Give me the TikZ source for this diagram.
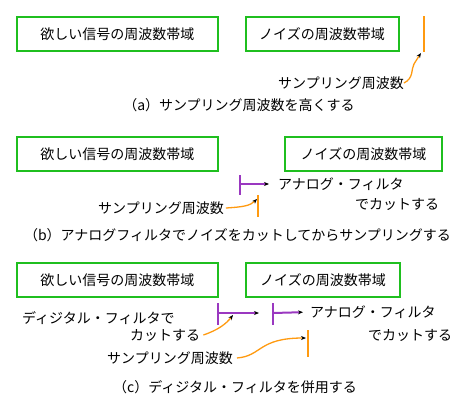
\documentclass[tikz,border=0pt]{standalone}
\usepackage{fontspec}
\setmainfont{Noto Sans CJK JP}
\usetikzlibrary{arrows.meta,positioning}
\definecolor{BandGreen}{HTML}{1FBF1F}
\definecolor{FilterPurple}{HTML}{9A38C0}
\definecolor{SampleOrange}{HTML}{FF9A10}
\tikzset{
  every node/.style={font=\fontsize{14}{16}\selectfont, inner sep=0pt},
  band/.style={draw=BandGreen, line width=2pt, minimum height=34pt},
  marker/.style={draw=SampleOrange, line width=2pt},
  filterbar/.style={draw=FilterPurple, line width=2pt},
  filterarrow/.style={-{Stealth[length=5pt,width=4pt,color=black]}, draw=FilterPurple, line width=2pt},
  pointer/.style={-{Stealth[length=5pt,width=4pt,color=black]}, draw=SampleOrange, line width=1.3pt},
}

\begin{document}
\begin{tikzpicture}[x=1pt,y=-1pt]
  \useasboundingbox (0,0) rectangle (467,407);
  % (a)
  \node[band, minimum width=201pt] (wantA) at (117.5,34) {欲しい信号の周波数帯域};
  \node[band, minimum width=153pt] (noiseA) at (322,34) {ノイズの周波数帯域};
  \coordinate (fsTopA) at (424,16);
  \coordinate (fsBotA) at (424,52);
  \coordinate (fsTipA) at (421,53);
  \draw[marker] (fsTopA) -- (fsBotA);
  \node[anchor=west] (fsA) at (278,83) {サンプリング周波数};
  \draw[pointer] (fsA.east) .. controls (414,78) and (411,69) .. (414,64) .. controls (417,59) .. (fsTipA);
  \node (capA) at (239,105) {（a）サンプリング周波数を高くする};

  % (b)
  \node[band, minimum width=201pt] (wantB) at (117.5,154) {欲しい信号の周波数帯域};
  \node[band, minimum width=157pt] (noiseB) at (363.5,154) {ノイズの周波数帯域};
  \coordinate (fltTopB) at (240,175);
  \coordinate (fltBotB) at (240,195);
  \coordinate (fltB) at (240,184);
  \draw[filterbar] (fltTopB) -- (fltBotB);
  \node[anchor=west] (anaB) at (278,184) {アナログ・フィルタ};
  \node[anchor=west] (cutB) at (355,204) {でカットする};
  \draw[filterarrow, shorten >=9pt] (fltB) -- (anaB.west);
  \coordinate (fsTopB) at (258,195);
  \coordinate (fsBotB) at (258,217);
  \coordinate (fsTipB) at (257,199);
  \draw[marker] (fsTopB) -- (fsBotB);
  \node[anchor=west] (fsB) at (98,208) {サンプリング周波数};
  \draw[pointer] ([xshift=2pt]fsB.east) .. controls (242,207) and (250,206) .. (fsTipB);
  \node (capB) at (237.5,235) {（b）アナログフィルタでノイズをカットしてからサンプリングする};

  % (c)
  \node[band, minimum width=201pt] (wantC) at (117.5,280) {欲しい信号の周波数帯域};
  \node[band, minimum width=154pt] (noiseC) at (323,280) {ノイズの周波数帯域};
  \coordinate (digTopC) at (218,303);
  \coordinate (digBotC) at (218,325);
  \coordinate (digC) at (218,313);
  \coordinate (anaTopC) at (273,303);
  \coordinate (anaBotC) at (273,325);
  \coordinate (anaMidC) at (273,313);
  \draw[filterbar] (digTopC) -- (digBotC);
  \draw[filterbar] (anaTopC) -- (anaBotC);
  \draw[filterarrow, shorten >=14pt] (digC) -- (anaMidC);
  \node[anchor=west] (anaC) at (310,312) {アナログ・フィルタ};
  \node[anchor=west] (cutC) at (368,335) {でカットする};
  \draw[filterarrow, shorten >=7pt] (anaMidC) -- (anaC.west);
  \node[anchor=west] (digTxtC) at (22,318) {ディジタル・フィルタで};
  \node[anchor=west] (digCutC) at (130,335) {カットする};
  \coordinate (digTipC) at (233,315);
  \draw[pointer] ([xshift=3pt]digCutC.east) .. controls (218,330) and (226,324) .. (digTipC);
  \coordinate (fsTopC) at (308,330);
  \coordinate (fsBotC) at (308,357);
  \coordinate (fsTipC) at (306,338);
  \draw[marker] (fsTopC) -- (fsBotC);
  \node[anchor=west] (fsC) at (107,358) {サンプリング周波数};
  \draw[pointer] ([xshift=4pt]fsC.east) .. controls (262,356) and (258,338) .. (fsTipC);
  \node (capC) at (235,387) {（c）ディジタル・フィルタを併用する};
\end{tikzpicture}
\end{document}
